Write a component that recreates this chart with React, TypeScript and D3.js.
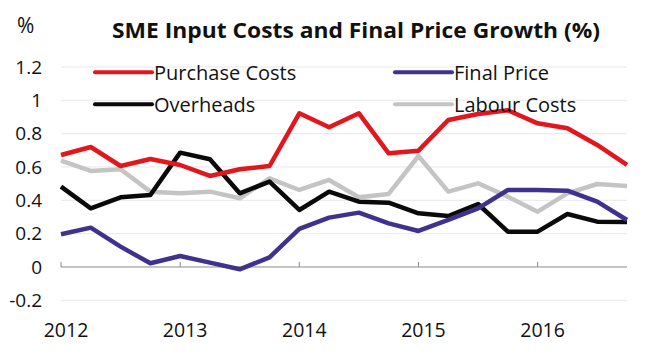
import React from "react";
import * as d3 from "d3";

const quarters = d3.range(20); // 2012 Q1 .. 2016 Q4
const yearLabels = ["2012", "2013", "2014", "2015", "2016"];
const yTicks = [-0.2, 0, 0.2, 0.4, 0.6, 0.8, 1, 1.2];

const purchaseCosts = [0.672, 0.72, 0.606, 0.648, 0.612, 0.546, 0.586, 0.606, 0.922, 0.838, 0.922, 0.682, 0.698, 0.882, 0.918, 0.94, 0.862, 0.832, 0.732, 0.612];
const finalPrice = [0.196, 0.236, 0.122, 0.022, 0.066, 0.026, -0.014, 0.058, 0.228, 0.296, 0.326, 0.262, 0.216, 0.282, 0.352, 0.462, 0.462, 0.458, 0.392, 0.282];
const overheads = [0.482, 0.352, 0.418, 0.432, 0.686, 0.646, 0.442, 0.512, 0.342, 0.452, 0.392, 0.386, 0.322, 0.306, 0.378, 0.212, 0.212, 0.318, 0.272, 0.27];
const labourCosts = [0.638, 0.576, 0.586, 0.452, 0.442, 0.452, 0.412, 0.532, 0.462, 0.522, 0.418, 0.438, 0.666, 0.452, 0.502, 0.422, 0.332, 0.442, 0.498, 0.486];

const series = [
  { name: "Labour Costs", values: labourCosts, color: "#c4c4c4" },
  { name: "Overheads", values: overheads, color: "#0a0a0a" },
  { name: "Final Price", values: finalPrice, color: "#40318f" },
  { name: "Purchase Costs", values: purchaseCosts, color: "#e2161d" },
];

const legend = [
  { name: "Purchase Costs", color: "#e2161d", col: 0, row: 0 },
  { name: "Final Price", color: "#40318f", col: 1, row: 0 },
  { name: "Overheads", color: "#0a0a0a", col: 0, row: 1 },
  { name: "Labour Costs", color: "#c4c4c4", col: 1, row: 1 },
];

const W = 650;
const H = 362;
const FONT = "'Open Sans', 'Noto Sans', sans-serif";

export default function App() {
  const x = d3.scaleLinear().domain([0, quarters.length - 1]).range([61, 627]);
  const y = d3.scaleLinear().domain([-0.2, 1.2]).range([300.3, 67]);
  const line = d3
    .line<number>()
    .x((_, i) => x(i))
    .y((d) => y(d));

  const legendX = [95, 395];
  const legendY = [72.3, 104.3];

  return (
    <svg
      width={W}
      height={H}
      style={{ position: "absolute", left: 0, top: 0, background: "#fff" }}
    >
      <rect width={W} height={H} fill="#fff" />
      <text x={17} y={33} fontFamily={FONT} fontSize={21} fill="#111">%</text>
      <text
        x={112}
        y={38}
        fontFamily={FONT}
        fontSize={22}
        fontWeight="bold"
        fill="#111"
        textLength={488}
        lengthAdjust="spacingAndGlyphs"
      >
        SME Input Costs and Final Price Growth (%)
      </text>

      {yTicks.map((t) =>
        t === 0 ? null : (
          <line key={t} x1={61} x2={627} y1={y(t)} y2={y(t)} stroke="#e8e8e8" strokeWidth={1} />
        )
      )}
      {yTicks.map((t) => (
        <text
          key={"l" + t}
          x={42}
          y={y(t)}
          dy="0.36em"
          textAnchor="end"
          fontFamily={FONT}
          fontSize={19}
          fill="#111"
        >
          {String(t)}
        </text>
      ))}

      <line x1={61} x2={627} y1={y(0)} y2={y(0)} stroke="#8a8a8a" strokeWidth={1} />
      {yearLabels.map((lab, k) => (
        <g key={lab}>
          <line x1={x(k * 4)} x2={x(k * 4)} y1={y(0)} y2={y(0) - 5} stroke="#8a8a8a" strokeWidth={1} />
          <text
            x={x(k * 4) + 5}
            y={337}
            textAnchor="middle"
            fontFamily={FONT}
            fontSize={19.5}
            fill="#111"
          >
            {lab}
          </text>
        </g>
      ))}

      {series.map((s) => (
        <path
          key={s.name}
          d={line(s.values) || ""}
          fill="none"
          stroke={s.color}
          strokeWidth={4.5}
          strokeLinejoin="round"
        />
      ))}

      {legend.map((l) => (
        <g key={l.name}>
          <line
            x1={legendX[l.col]}
            x2={legendX[l.col] + 57}
            y1={legendY[l.row]}
            y2={legendY[l.row]}
            stroke={l.color}
            strokeWidth={4}
            strokeLinecap="round"
          />
          <text
            x={legendX[l.col] + 59}
            y={legendY[l.row] + 7.5}
            fontFamily={FONT}
            fontSize={20}
            fill="#111"
          >
            {l.name}
          </text>
        </g>
      ))}
    </svg>
  );
}
